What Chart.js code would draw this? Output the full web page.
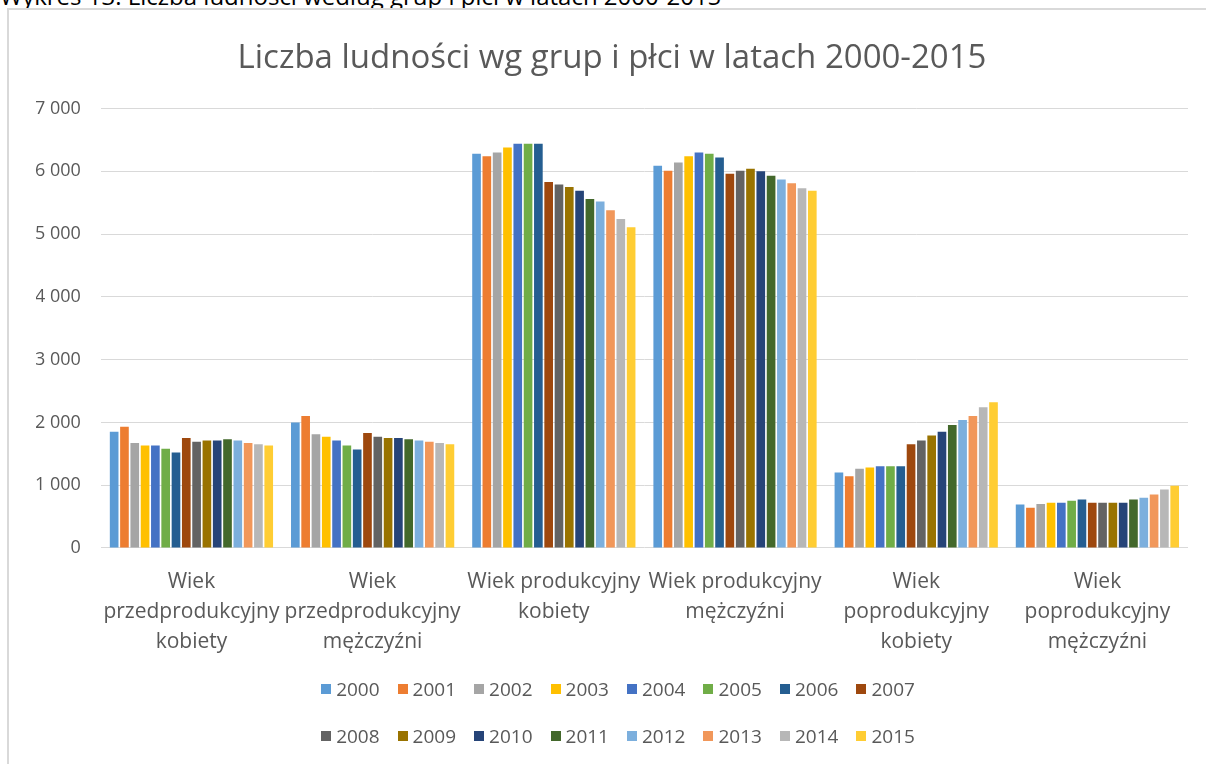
<!DOCTYPE html>
<html>
<head>
<meta charset="utf-8">
<script src="https://cdn.jsdelivr.net/npm/chart.js@4"></script>
<style>
body{margin:0;background:#fff;overflow:hidden;}
#wrap{position:relative;width:1206px;height:764px;overflow:hidden;}
#caption{position:absolute;left:0px;top:-16px;font-family:"Open Sans",sans-serif;font-size:24px;line-height:24px;color:#000;white-space:nowrap;}
#frame{position:absolute;left:7px;top:8px;width:1300px;height:800px;border-left:2px solid #d9d9d9;border-top:2px solid #d9d9d9;background:#fff;}
#chart{position:absolute;left:0;top:0;}
.legend-row{position:absolute;left:15px;width:1206px;display:flex;justify-content:center;font-family:"Open Sans",sans-serif;font-size:19px;color:#595959;}
.legend-item{display:flex;align-items:center;margin:0 9px;}
.legend-box{width:10px;height:10px;margin-right:5px;}
</style>
</head>
<body>
<div id="wrap">
<div id="caption">Wykres 13. Liczba ludności według grup i płci w latach 2000-2015</div>
<div id="frame"></div>
<canvas id="chart" width="1206" height="764"></canvas>
<div class="legend-row" id="legend1" style="top:676px"></div>
<div class="legend-row" id="legend2" style="top:723px"></div>
</div>
<script>
const categories = [
["Wiek","przedprodukcyjny","kobiety"],
["Wiek","przedprodukcyjny","mężczyźni"],
["Wiek produkcyjny","kobiety"],
["Wiek produkcyjny","mężczyźni"],
["Wiek","poprodukcyjny","kobiety"],
["Wiek","poprodukcyjny","mężczyźni"]
];

const years = ["2000","2001","2002","2003","2004","2005","2006","2007","2008","2009","2010","2011","2012","2013","2014","2015"];

const colors = ["#5b9bd5","#ed7d31","#a5a5a5","#ffc000","#4472c4","#70ad47","#255e91","#9e480e","#636363","#997300","#264478","#43682b","#7cafdd","#f1975a","#b7b7b7","#ffcd33"];

// values per group, one per year 2000-2015
const przedKobiety = [1850,1930,1670,1630,1630,1580,1520,1750,1690,1710,1710,1730,1710,1670,1650,1630];
const przedMezczyzni = [2000,2100,1810,1770,1710,1630,1570,1830,1770,1750,1750,1730,1710,1690,1670,1650];
const prodKobiety = [6280,6240,6300,6380,6440,6440,6440,5830,5790,5750,5690,5560,5520,5380,5240,5110];
const prodMezczyzni = [6090,6010,6140,6240,6300,6280,6220,5960,6010,6040,6000,5930,5870,5810,5730,5690];
const poprodKobiety = [1200,1140,1260,1280,1300,1300,1300,1650,1710,1790,1850,1960,2040,2100,2240,2320];
const poprodMezczyzni = [690,640,700,720,720,750,770,720,720,720,720,770,800,850,930,990];

const yTicks = [0,1000,2000,3000,4000,5000,6000,7000];

const groups = [przedKobiety,przedMezczyzni,prodKobiety,prodMezczyzni,poprodKobiety,poprodMezczyzni];

const datasets = years.map((y,i) => ({
label:y,
data:groups.map(g => g[i]),
backgroundColor:colors[i],
borderWidth:0,
categoryPercentage:0.91,
barPercentage:0.84
}));

const gray = "#595959";

new Chart(document.getElementById("chart"),{
type:"bar",
data:{labels:categories,datasets:datasets},
options:{
responsive:false,
animation:false,
devicePixelRatio:1,
layout:{padding:{left:36,right:18,top:0,bottom:96}},
plugins:{
legend:{display:false},
tooltip:{enabled:false},
title:{
display:true,
text:"Liczba ludności wg grup i płci w latach 2000-2015",
color:gray,
font:{family:"Open Sans",size:33,weight:"normal",lineHeight:1.2},
padding:{top:39,bottom:30}
}
},
scales:{
x:{
grid:{display:false},
border:{display:false},
ticks:{
color:gray,
font:{family:"Open Sans",size:21,lineHeight:1.43},
padding:11,
maxRotation:0,
autoSkip:false
}
},
y:{
min:0,
max:7000,
afterBuildTicks:axis => { axis.ticks = yTicks.map(v => ({value:v})); },
// pull the axis into the left padding so the title centres like the original
afterFit:axis => { axis.width -= 21; },
grid:{color:"#d9d9d9",drawTicks:false},
border:{display:false},
ticks:{
color:gray,
font:{family:"Open Sans",size:18},
padding:20,
callback:v => v.toString().replace(/\B(?=(\d{3})+(?!\d))/g," ")
}
}
}
}
});

// legend in two rows like the original
function addLegend(el,from,to){
for(let i=from;i<to;i++){
const item=document.createElement("div");
item.className="legend-item";
const box=document.createElement("span");
box.className="legend-box";
box.style.background=colors[i];
const txt=document.createElement("span");
txt.textContent=years[i];
item.appendChild(box);
item.appendChild(txt);
el.appendChild(item);
}
}
addLegend(document.getElementById("legend1"),0,8);
addLegend(document.getElementById("legend2"),8,16);
</script>
</body>
</html>
